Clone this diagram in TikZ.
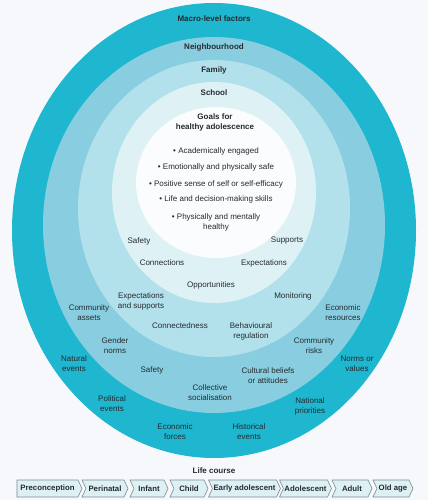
\documentclass[tikz,border=0pt]{standalone}
\usepackage{fontspec}
\setmainfont{Liberation Sans}
\usetikzlibrary{shapes.symbols}
\definecolor{lcBack}{HTML}{F7F8FB}
\definecolor{lcMacro}{HTML}{1EB7CF}
\definecolor{lcHood}{HTML}{88CEE0}
\definecolor{lcFamily}{HTML}{B2E1EC}
\definecolor{lcSchool}{HTML}{DEF2F6}
\definecolor{lcGoal}{HTML}{FAFCFD}
\definecolor{lcInk}{HTML}{262A2E}
\definecolor{lcStage}{HTML}{DDF1F5}
\definecolor{lcEdge}{HTML}{7D8B91}
\tikzset{
  lclabel/.style={align=center, text=lcInk, inner sep=0pt,
    font=\fontsize{8}{10}\selectfont},
  lchead/.style={lclabel, font=\fontsize{8}{10}\selectfont\bfseries},
  lcring/.style={fill=#1, draw=none},
  lcstage/.style={signal, draw=lcEdge, fill=lcStage, line width=0.6pt,
    signal pointer angle=130, minimum height=17pt, inner xsep=1pt,
    text=lcInk, font=\fontsize{7.8}{8}\selectfont\bfseries}
}

\begin{document}
\begin{tikzpicture}[x=1pt, y=-1pt]
  \useasboundingbox[fill=lcBack] (0,0) rectangle (428,500);

  % nested settings
  \fill[lcring=lcMacro]  (214,230.5) ellipse [x radius=202pt, y radius=227.5pt];
  \fill[lcring=lcHood]   (214,225)   ellipse [x radius=171pt, y radius=188pt];
  \fill[lcring=lcFamily] (214,208.5) ellipse [x radius=136pt, y radius=148.5pt];
  \fill[lcring=lcSchool] (214,192.5) ellipse [x radius=102pt, y radius=110.5pt];
  \fill[lcring=lcGoal]   (216,182.5) ellipse [x radius=80pt, y radius=75.5pt];

  \node[lchead] (macro)  at (214,19) {Macro-level factors};
  \node[lchead] (hood)   at (214,47) {Neighbourhood};
  \node[lchead] (family) at (214,70) {Family};
  \node[lchead] (school) at (214,93) {School};
  \node[lchead] (goals)  at (215,122) {Goals for\\healthy adolescence};

  \node[lclabel] (goalA) at (216,151) {\textbullet\ Academically engaged};
  \node[lclabel] (goalB) at (216,167) {\textbullet\ Emotionally and physically safe};
  \node[lclabel] (goalC) at (216,184) {\textbullet\ Positive sense of self or self-efficacy};
  \node[lclabel] (goalD) at (216,199) {\textbullet\ Life and decision-making skills};
  \node[lclabel] (goalE) at (216,222) {\textbullet\ Physically and mentally\\healthy};

  % school
  \node[lclabel] (scSafety)  at (139,241) {Safety};
  \node[lclabel] (scSupport) at (287,241) {Supports};
  \node[lclabel] (scConnect) at (162,263) {Connections};
  \node[lclabel] (scExpect)  at (264,263) {Expectations};
  \node[lclabel] (scOpport)  at (211,285) {Opportunities};

  % family
  \node[lclabel] (faExpect)  at (141,301) {Expectations\\and supports};
  \node[lclabel] (faMonitor) at (293,296) {Monitoring};
  \node[lclabel] (faConnect) at (180,326) {Connectedness};
  \node[lclabel] (faRegul)   at (251,331) {Behavioural\\regulation};

  % neighbourhood
  \node[lclabel] (nbAssets)  at (89,313)  {Community\\assets};
  \node[lclabel] (nbEconres) at (343,313) {Economic\\resources};
  \node[lclabel] (nbGender)  at (115,346) {Gender\\norms};
  \node[lclabel] (nbRisks)   at (314,346) {Community\\risks};
  \node[lclabel] (nbSafety)  at (152,370) {Safety};
  \node[lclabel] (nbCulture) at (268,376) {Cultural beliefs\\or attitudes};
  \node[lclabel] (nbSocial)  at (210,393) {Collective\\socialisation};

  % macro
  \node[lclabel] (mcNatural)  at (74,364)  {Natural\\events};
  \node[lclabel] (mcNorms)    at (357,364) {Norms or\\values};
  \node[lclabel] (mcPolitic)  at (112,404) {Political\\events};
  \node[lclabel] (mcNation)   at (310,406) {National\\priorities};
  \node[lclabel] (mcEconomic) at (175,432) {Economic\\forces};
  \node[lclabel] (mcHistory)  at (249,432) {Historical\\events};

  % life course
  \node[lchead] (course) at (214,471) {Life course};
  \node[lcstage, signal to=east, minimum width=65pt] (preconc) at (47.5,488.5) {Preconception};
  \node[lcstage, signal from=west, signal to=east, minimum width=46pt] (perinat) at (105,488.5) {Perinatal};
  \node[lcstage, signal from=west, signal to=east, minimum width=38pt] (infant) at (149,488.5) {Infant};
  \node[lcstage, signal from=west, signal to=east, minimum width=38pt] (child) at (189,488.5) {Child};
  \node[lcstage, signal from=west, signal to=east, minimum width=69pt] (earlyad) at (244.5,488.5) {Early adolescent};
  \node[lcstage, signal from=west, signal to=east, minimum width=49pt] (adolesc) at (305.5,488.5) {Adolescent};
  \node[lcstage, signal from=west, signal to=east, minimum width=40pt] (adult) at (352,488.5) {Adult};
  \node[lcstage, signal from=west, minimum width=40pt] (oldage) at (393,488.5) {Old age};
\end{tikzpicture}
\end{document}
